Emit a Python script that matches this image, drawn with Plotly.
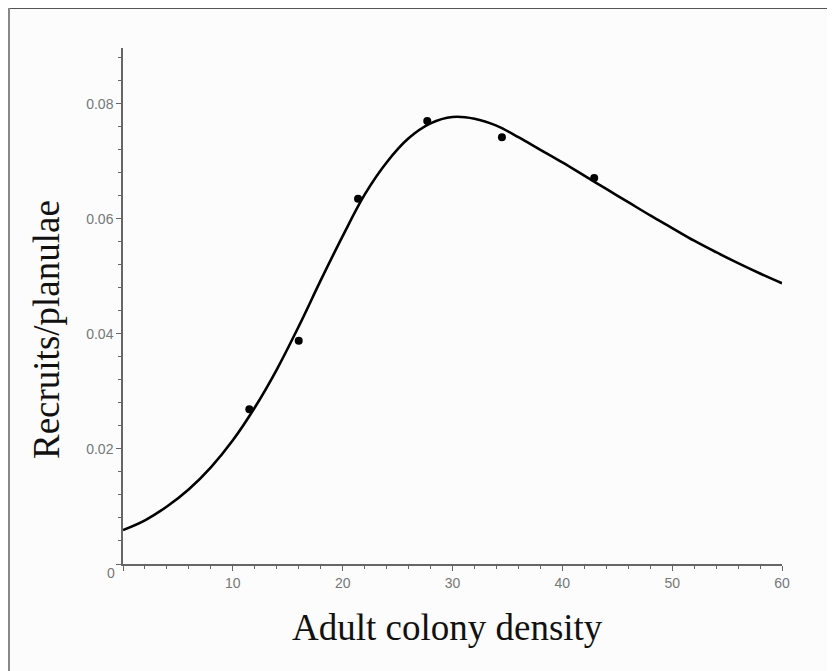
import plotly.graph_objects as go

# observed data points
obs_x = [11.5, 16.0, 21.4, 27.7, 34.5, 42.9]
obs_y = [0.0269, 0.0388, 0.0635, 0.0770, 0.0742, 0.0671]

# fitted curve
fit_x = [0, 2, 4, 6, 8, 10, 12, 14, 16, 18, 20, 22, 24, 26, 28, 30, 32, 34, 36, 38,
         40, 42, 44, 46, 48, 50, 52, 54, 56, 58, 60]
fit_y = [0.0059, 0.0076, 0.0100, 0.0130, 0.0168, 0.0215, 0.0272, 0.0338, 0.0413, 0.0493,
         0.0570, 0.0642, 0.0698, 0.0740, 0.0766, 0.0777, 0.0774, 0.0762, 0.0742, 0.0720,
         0.0698, 0.0675, 0.0652, 0.0629, 0.0606, 0.0584, 0.0562, 0.0542, 0.0523, 0.0505,
         0.0488]

x_ticks = [0, 10, 20, 30, 40, 50, 60]
x_labels = ["", "10", "20", "30", "40", "50", "60"]
y_ticks = [0, 0.02, 0.04, 0.06, 0.08]
y_labels = ["", "0.02", "0.04", "0.06", "0.08"]

fig = go.Figure()
fig.add_trace(go.Scatter(x=fit_x, y=fit_y, mode="lines",
                         line=dict(color="black", width=2.6, shape="spline", smoothing=1.0),
                         hoverinfo="skip", showlegend=False))
fig.add_trace(go.Scatter(x=obs_x, y=obs_y, mode="markers",
                         marker=dict(color="black", size=8), showlegend=False))

tickfont = dict(family="Liberation Sans", size=14, color="#777777")
fig.update_layout(
    width=835, height=671,
    margin=dict(l=115, r=61, t=40, b=115),
    paper_bgcolor="#fcfcfc", plot_bgcolor="#fcfcfc",
    xaxis=dict(range=[0, 60], tickmode="array", tickvals=x_ticks, ticktext=x_labels,
               showgrid=False, zeroline=False, showline=True, linecolor="#666666", linewidth=1.5,
               ticks="outside", ticklen=5, tickcolor="#666666", tickfont=tickfont,
               minor=dict(tickmode="linear", tick0=0, dtick=2, ticks="outside", ticklen=3,
                          tickcolor="#666666", showgrid=False)),
    yaxis=dict(range=[0, 0.0897], tickmode="array", tickvals=y_ticks, ticktext=y_labels,
               showgrid=False, zeroline=False, showline=True, linecolor="#666666", linewidth=1.5,
               ticks="outside", ticklen=5, tickcolor="#666666", tickfont=tickfont,
               minor=dict(tickmode="linear", tick0=0, dtick=0.004, ticks="outside", ticklen=3,
                          tickcolor="#666666", showgrid=False)),
    annotations=[
        dict(text="0", x=0, y=0, xref="x", yref="y", xshift=-12, yshift=-9,
             xanchor="center", yanchor="middle", showarrow=False, font=tickfont),
        dict(text="Recruits/planulae", x=-0.1153, y=0.4535, xref="paper", yref="paper",
             xanchor="center", yanchor="middle", textangle=-90, showarrow=False,
             font=dict(family="Liberation Serif", size=37, color="#111111")),
        dict(text="Adult colony density", x=0.4917, y=-0.124, xref="paper", yref="paper",
             xanchor="center", yanchor="middle", showarrow=False,
             font=dict(family="Liberation Serif", size=37, color="#111111")),
    ],
    shapes=[
        dict(type="line", xref="paper", yref="paper", x0=-0.173, x1=1.2, y0=1.0775, y1=1.0775,
             line=dict(color="#555555", width=2)),
        dict(type="line", xref="paper", yref="paper", x0=-0.173, x1=-0.173, y0=1.0775, y1=-0.3,
             line=dict(color="#888888", width=2)),
    ],
)

fig.write_html("out.html")
